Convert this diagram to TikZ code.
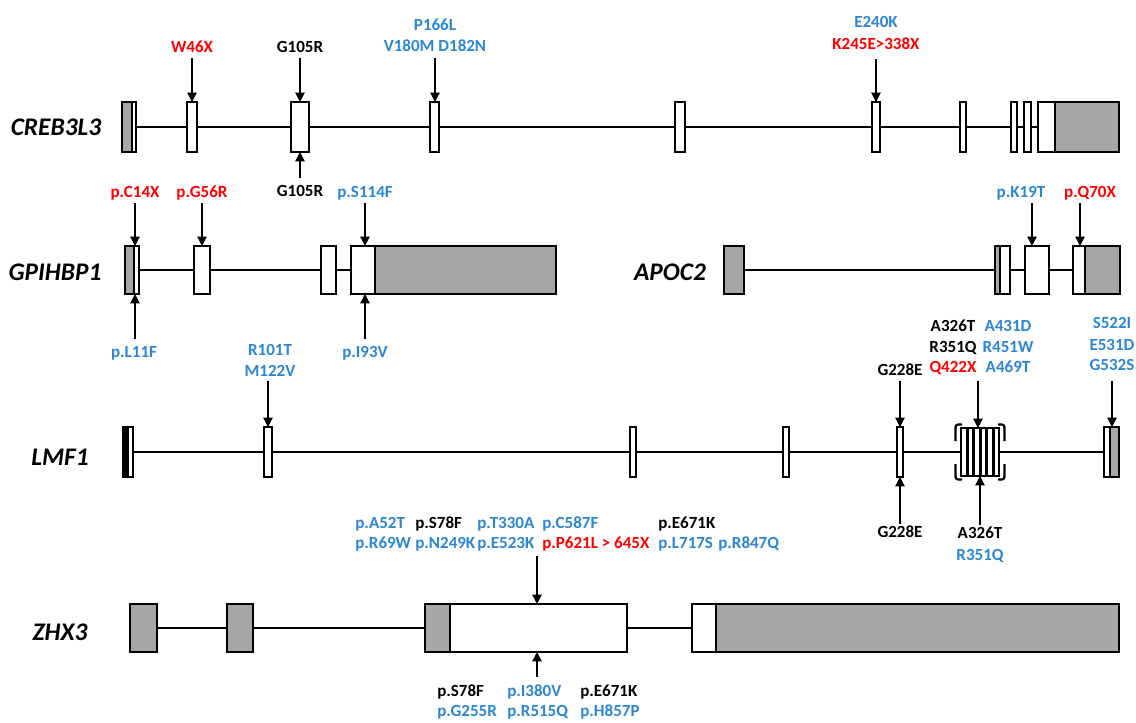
\documentclass[tikz,border=0pt]{standalone}
\usepackage{fontspec}
\setmainfont{Carlito}
\usetikzlibrary{arrows.meta,fit,backgrounds}
\definecolor{cblue}{RGB}{44,134,212}
\definecolor{cred}{RGB}{255,0,0}
\definecolor{cgray}{RGB}{166,166,166}
\tikzset{
 exon/.style={draw=black,line width=1.5pt,inner sep=0pt,outer sep=0pt},
 intron/.style={line width=1pt},
 arr/.style={line width=0.9pt,-{Triangle[width=7pt,length=7pt]}},
 lab/.style={font=\fontsize{12.75}{15}\selectfont\bfseries,inner sep=0pt,anchor=base},
 labw/.style={lab,anchor=base west},
 gene/.style={font=\fontsize{19}{22}\selectfont\bfseries\itshape,inner sep=0pt},
 brk/.style={line width=1.7pt,rounded corners=2pt},
}
\newcommand\ex[6][white]{\node[exon,fill=#1,fit={(#3,#4)(#5,#6)}] (#2) {};}
\begin{document}
\begin{tikzpicture}[x=0.75pt,y=-0.75pt]
\useasboundingbox (0,0) rectangle (1136,722);

% ---------------- CREB3L3 ----------------
\node[gene] (gCREB) at (56,127) {CREB3L3};
\ex[cgray]{c1a}{122}{102}{132}{152}
\ex{c1b}{132}{102}{136}{152}
\ex{c2}{187}{102}{197}{152}
\ex{c3}{291}{102}{309}{152}
\ex{c4}{430}{102}{439}{152}
\ex{c5}{675}{102}{685}{152}
\ex{c6}{872}{102}{880}{152}
\ex{c7}{960}{102}{966}{152}
\ex{c8}{1011}{102}{1017}{152}
\ex{c9}{1024}{102}{1031}{152}
\ex{c10a}{1038}{102}{1055}{152}
\ex[cgray]{c10b}{1055}{102}{1119}{152}
\begin{pgfonlayer}{background}
\draw[intron] (c1b.east) -- (c10a.west);
\end{pgfonlayer}
\node[lab,text=cred] (lW46X) at (192,52.5) {W46X};
\coordinate (aW46X) at (192,58);
\draw[arr] (aW46X) -- (aW46X |- c2.north);
\node[lab] (lG105Rt) at (300,52.5) {G105R};
\coordinate (aG105Rt) at (300,58);
\draw[arr] (aG105Rt) -- (aG105Rt |- c3.north);
\node[lab,text=cblue] (lP166L) at (435,30.5) {P166L};
\node[lab,text=cblue] (lV180M) at (435,51.5) {V180M D182N};
\coordinate (aP166L) at (435,58);
\draw[arr] (aP166L) -- (aP166L |- c4.north);
\node[lab,text=cblue] (lE240K) at (876,27.5) {E240K};
\node[lab,text=cred] (lK245E) at (876,49.5) {K245E>338X};
\coordinate (aE240K) at (876,59);
\draw[arr] (aE240K) -- (aE240K |- c6.north);
\node[lab] (lG105Rb) at (300,196) {G105R};
\coordinate (aG105Rb) at (300,178);
\draw[arr] (aG105Rb) -- (aG105Rb |- c3.south);

% ---------------- GPIHBP1 ----------------
\node[gene] (gGPI) at (55,272) {GPIHBP1};
\ex[cgray]{g1a}{125}{246}{134}{294}
\ex{g1b}{134}{246}{139}{294}
\ex{g2}{194}{246}{210}{294}
\ex{g3}{321}{246}{336}{294}
\ex{g4a}{351}{246}{375}{294}
\ex[cgray]{g4b}{375}{246}{556}{294}
\begin{pgfonlayer}{background}
\draw[intron] (g1b.east) -- (g4a.west);
\end{pgfonlayer}
\node[lab,text=cred] (lC14X) at (135,197.5) {p.C14X};
\coordinate (aC14X) at (135,203);
\draw[arr] (aC14X) -- (aC14X |- g1b.north);
\node[lab,text=cred] (lG56R) at (202,197.5) {p.G56R};
\coordinate (aG56R) at (202,203);
\draw[arr] (aG56R) -- (aG56R |- g2.north);
\node[lab,text=cblue] (lS114F) at (365,197.5) {p.S114F};
\coordinate (aS114F) at (365,203);
\draw[arr] (aS114F) -- (aS114F |- g4a.north);
\node[lab,text=cblue] (lL11F) at (134,357.5) {p.L11F};
\coordinate (aL11F) at (135,339);
\draw[arr] (aL11F) -- (aL11F |- g1b.south);
\node[lab,text=cblue] (lI93V) at (365,357.5) {p.I93V};
\coordinate (aI93V) at (365,339);
\draw[arr] (aI93V) -- (aI93V |- g4a.south);

% ---------------- APOC2 ----------------
\node[gene] (gAPOC) at (670,272) {APOC2};
\ex[cgray]{p1}{724}{246}{744}{294}
\ex[cgray]{p2a}{995}{246}{1000}{294}
\ex{p2b}{1000}{246}{1010}{294}
\ex{p3}{1025}{246}{1049}{294}
\ex{p4a}{1073}{246}{1085}{294}
\ex[cgray]{p4b}{1085}{246}{1120}{294}
\begin{pgfonlayer}{background}
\draw[intron] (p1.east) -- (p4a.west);
\end{pgfonlayer}
\node[lab,text=cblue] (lK19T) at (1021,197.5) {p.K19T};
\coordinate (aK19T) at (1032,203);
\draw[arr] (aK19T) -- (aK19T |- p3.north);
\node[lab,text=cred] (lQ70X) at (1090,197.5) {p.Q70X};
\coordinate (aQ70X) at (1080,203);
\draw[arr] (aQ70X) -- (aQ70X |- p4a.north);

% ---------------- LMF1 ----------------
\node[gene] (gLMF) at (60,457) {LMF1};
\ex[black]{m1a}{123}{427}{128}{477}
\ex{m1b}{128}{427}{133}{477}
\ex{m2}{264}{427}{272}{477}
\ex{m3}{630}{427}{636}{477}
\ex{m4}{783}{427}{789}{477}
\ex{m5}{897}{427}{903}{477}
\ex{k1}{961}{428}{966.5}{476}
\ex{k2}{967.5}{428}{973}{476}
\ex{k3}{974}{428}{979.5}{476}
\ex{k4}{980.5}{428}{986}{476}
\ex{k5}{987}{428}{992.5}{476}
\ex{k6}{993.5}{428}{999}{476}
\ex{m6a}{1104}{427}{1110}{477}
\ex[cgray]{m6b}{1110}{427}{1119}{477}
\begin{pgfonlayer}{background}
\draw[intron] (m1b.east) -- (m6a.west);
\end{pgfonlayer}
\draw[brk] (955.5,441) -- (955.5,424.5) -- (962,424.5);
\draw[brk] (955.5,464) -- (955.5,479.5) -- (962,479.5);
\draw[brk] (1004.5,441) -- (1004.5,424.5) -- (998,424.5);
\draw[brk] (1004.5,464) -- (1004.5,479.5) -- (998,479.5);
\node[lab,text=cblue] (lR101T) at (270,355.5) {R101T};
\node[lab,text=cblue] (lM122V) at (270,376.5) {M122V};
\coordinate (aR101T) at (268,381);
\draw[arr] (aR101T) -- (aR101T |- m2.north);
\node[lab] (lG228Et) at (900,375.5) {G228E};
\coordinate (aG228Et) at (900,381);
\draw[arr] (aG228Et) -- (aG228Et |- m5.north);
\node[lab] (lA326Tt) at (953,331.5) {A326T};
\node[lab] (lR351Qt) at (953,352.5) {R351Q};
\node[lab,text=cred] (lQ422X) at (953,372.5) {Q422X};
\node[lab,text=cblue] (lA431D) at (1008,331.5) {A431D};
\node[lab,text=cblue] (lR451W) at (1008,352.5) {R451W};
\node[lab,text=cblue] (lA469T) at (1008,372.5) {A469T};
\coordinate (aClus) at (978,381);
\draw[arr] (aClus) -- (aClus |- k3.north);
\node[lab,text=cblue] (lS522I) at (1112,328.5) {S522I};
\node[lab,text=cblue] (lE531D) at (1112,350.5) {E531D};
\node[lab,text=cblue] (lG532S) at (1112,370.5) {G532S};
\coordinate (aS522I) at (1112,381);
\draw[arr] (aS522I) -- (aS522I |- m6b.north);
\node[lab] (lG228Eb) at (900,537.5) {G228E};
\coordinate (aG228Eb) at (900,524);
\draw[arr] (aG228Eb) -- (aG228Eb |- m5.south);
\node[lab] (lA326Tb) at (980,538.5) {A326T};
\node[lab,text=cblue] (lR351Qb) at (980,560.5) {R351Q};
\coordinate (aClusB) at (980,525);
\draw[arr] (aClusB) -- (aClusB |- k4.south);

% ---------------- ZHX3 ----------------
\node[gene] (gZHX) at (60,632) {ZHX3};
\ex[cgray]{z1}{130}{604}{157}{652}
\ex[cgray]{z2}{227}{604}{253}{652}
\ex[cgray]{z3a}{425}{604}{450}{652}
\ex{z3b}{450}{604}{627}{652}
\ex{z4a}{692}{604}{716}{652}
\ex[cgray]{z4b}{716}{604}{1119}{652}
\begin{pgfonlayer}{background}
\draw[line width=1.5pt] (z1.east) -- (z4a.west);
\end{pgfonlayer}
\node[labw,text=cblue] (zA52T) at (355,528.5) {p.A52T};
\node[labw] (zS78Ft) at (415,528.5) {p.S78F};
\node[labw,text=cblue] (zT330A) at (477,528.5) {p.T330A};
\node[labw,text=cblue] (zC587F) at (542,528.5) {p.C587F};
\node[labw] (zE671Kt) at (658,528.5) {p.E671K};
\node[labw,text=cblue] (zR69W) at (355,548.5) {p.R69W};
\node[labw,text=cblue] (zN249K) at (415,548.5) {p.N249K};
\node[labw,text=cblue] (zE523K) at (477,548.5) {p.E523K};
\node[labw,text=cred] (zP621L) at (542,548.5) {p.P621L > 645X};
\node[labw,text=cblue] (zL717S) at (658,548.5) {p.L717S};
\node[labw,text=cblue] (zR847Q) at (718,548.5) {p.R847Q};
\coordinate (aZt) at (537,556);
\draw[arr] (aZt) -- (aZt |- z3b.north);
\node[labw] (zS78Fb) at (437,696.5) {p.S78F};
\node[labw,text=cblue] (zI380V) at (507,696.5) {p.I380V};
\node[labw] (zE671Kb) at (580,696.5) {p.E671K};
\node[labw,text=cblue] (zG255R) at (437,716.5) {p.G255R};
\node[labw,text=cblue] (zR515Q) at (507,716.5) {p.R515Q};
\node[labw,text=cblue] (zH857P) at (580,716.5) {p.H857P};
\coordinate (aZb) at (537,677);
\draw[arr] (aZb) -- (aZb |- z3b.south);
\end{tikzpicture}
\end{document}
